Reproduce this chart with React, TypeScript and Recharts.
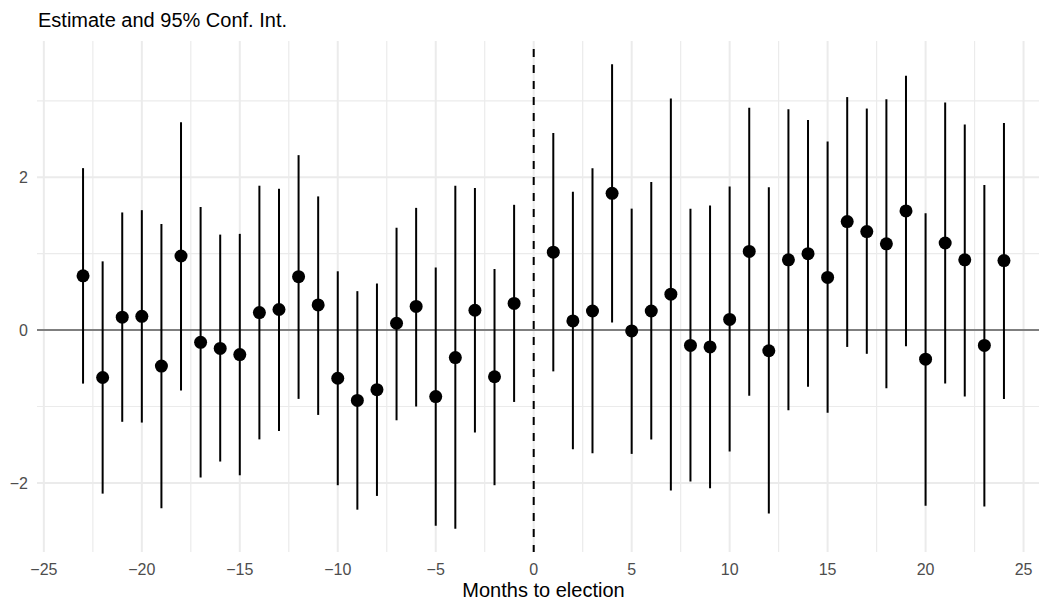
import { ComposedChart, Scatter, ErrorBar, XAxis, YAxis, CartesianGrid, ReferenceLine } from 'recharts';

// months relative to election (no month 0)
const months = [
  -23, -22, -21, -20, -19, -18, -17, -16, -15, -14, -13, -12, -11, -10, -9, -8, -7, -6, -5, -4, -3, -2, -1,
  1, 2, 3, 4, 5, 6, 7, 8, 9, 10, 11, 12, 13, 14, 15, 16, 17, 18, 19, 20, 21, 22, 23, 24,
];

const estimates = [
  0.71, -0.62, 0.17, 0.18, -0.47, 0.97, -0.16, -0.24, -0.32, 0.23, 0.27, 0.7, 0.33, -0.63, -0.92, -0.78, 0.09, 0.31, -0.87, -0.36, 0.26, -0.61, 0.35,
  1.02, 0.12, 0.25, 1.79, -0.01, 0.25, 0.47, -0.2, -0.22, 0.14, 1.03, -0.27, 0.92, 1.0, 0.69, 1.42, 1.29, 1.13, 1.56, -0.38, 1.14, 0.92, -0.2, 0.91,
];

const lower = [
  -0.7, -2.14, -1.2, -1.21, -2.33, -0.79, -1.93, -1.72, -1.9, -1.43, -1.32, -0.9, -1.11, -2.03, -2.35, -2.17, -1.18, -1.0, -2.56, -2.6, -1.34, -2.03, -0.94,
  -0.54, -1.56, -1.61, 0.1, -1.62, -1.43, -2.1, -1.98, -2.07, -1.59, -0.86, -2.4, -1.05, -0.74, -1.08, -0.22, -0.31, -0.76, -0.21, -2.3, -0.7, -0.87, -2.31, -0.9,
];

const upper = [
  2.12, 0.9, 1.54, 1.57, 1.39, 2.72, 1.61, 1.25, 1.26, 1.89, 1.85, 2.29, 1.75, 0.77, 0.51, 0.61, 1.34, 1.6, 0.82, 1.89, 1.86, 0.8, 1.64,
  2.58, 1.81, 2.12, 3.48, 1.59, 1.94, 3.03, 1.59, 1.63, 1.88, 2.91, 1.87, 2.89, 2.75, 2.47, 3.05, 2.9, 3.02, 3.33, 1.53, 2.98, 2.69, 1.9, 2.71,
];

const xTicks = [-25, -20, -15, -10, -5, 0, 5, 10, 15, 20, 25];
const xMinor = [-22.5, -17.5, -12.5, -7.5, -2.5, 2.5, 7.5, 12.5, 17.5, 22.5];
const yTicks = [-2, 0, 2];
const yMinor = [-1, 1, 3];

const data = months.map((m, i) => ({
  month: m,
  est: estimates[i],
  ci: [estimates[i] - lower[i], upper[i] - estimates[i]],
}));

const font = '"Liberation Sans", Arial, Helvetica, sans-serif';
const minus = (v: number) => String(v).replace('-', '\u2212');

const Dot = (props: any) => <circle cx={props.cx} cy={props.cy} r={6.5} fill="#000" />;

// map a value through whatever scale object recharts hands the grid
const applyScale = (axis: any, v: number): number | null => {
  const s = axis && axis.scale;
  if (!s) return null;
  if (typeof s === 'function') return s(v);
  if (typeof s.map === 'function') return s.map(v);
  if (typeof s.apply === 'function') return s.apply(v);
  return null;
};
const xLines = (vals: number[]) => ({ xAxis }: any) =>
  vals.map((v) => applyScale(xAxis, v)).filter((p) => p != null && !Number.isNaN(p)) as number[];
const yLines = (vals: number[]) => ({ yAxis }: any) =>
  vals.map((v) => applyScale(yAxis, v)).filter((p) => p != null && !Number.isNaN(p)) as number[];

export default function App() {
  return (
    <div
      style={{
        position: 'absolute',
        left: 0,
        top: 0,
        width: 1039,
        height: 603,
        overflow: 'hidden',
        background: '#fff',
        fontFamily: font,
      }}
    >
      <div
        style={{
          position: 'absolute',
          left: 38,
          top: 10,
          fontSize: 20,
          lineHeight: '20px',
          color: '#000',
          whiteSpace: 'nowrap',
        }}
      >
        Estimate and 95% Conf. Int.
      </div>
      <ComposedChart
        width={1060}
        height={603}
        data={data}
        margin={{ top: 41, right: 10, bottom: 0, left: 0 }}
        style={{ fontFamily: font }}
      >
        <CartesianGrid
          stroke="#EBEBEB"
          strokeWidth={1.2}
          verticalCoordinatesGenerator={xLines(xMinor)}
          horizontalCoordinatesGenerator={yLines(yMinor)}
        />
        <CartesianGrid
          stroke="#EBEBEB"
          strokeWidth={2}
          verticalCoordinatesGenerator={xLines(xTicks)}
          horizontalCoordinatesGenerator={yLines(yTicks)}
        />
        <XAxis
          dataKey="month"
          type="number"
          domain={[-25.35, 26.35]}
          allowDataOverflow
          ticks={xTicks}
          interval={0}
          height={51}
          tickLine={false}
          axisLine={false}
          tickSize={0}
          tickMargin={12}
          tickFormatter={minus}
          tick={{ fontSize: 16, fill: '#4D4D4D', fontFamily: font }}
          label={{ value: 'Months to election', position: 'insideBottom', offset: 6, fill: '#000', fontSize: 20, fontFamily: font }}
        />
        <YAxis
          type="number"
          domain={[-2.904, 3.784]}
          allowDataOverflow
          ticks={yTicks}
          interval={0}
          width={37}
          tickLine={false}
          axisLine={false}
          tickSize={0}
          tickMargin={9}
          tickFormatter={minus}
          tick={{ fontSize: 16, fill: '#4D4D4D', fontFamily: font }}
        />
        <ReferenceLine y={0} stroke="#7F7F7F" strokeWidth={2} />
        <ReferenceLine x={0} stroke="#000" strokeWidth={2} strokeDasharray="8 8" strokeDashoffset={1} />
        <Scatter dataKey="est" shape={Dot} isAnimationActive={false}>
          <ErrorBar dataKey="ci" direction="y" width={0} stroke="#000" strokeWidth={2} isAnimationActive={false} />
        </Scatter>
      </ComposedChart>
    </div>
  );
}
